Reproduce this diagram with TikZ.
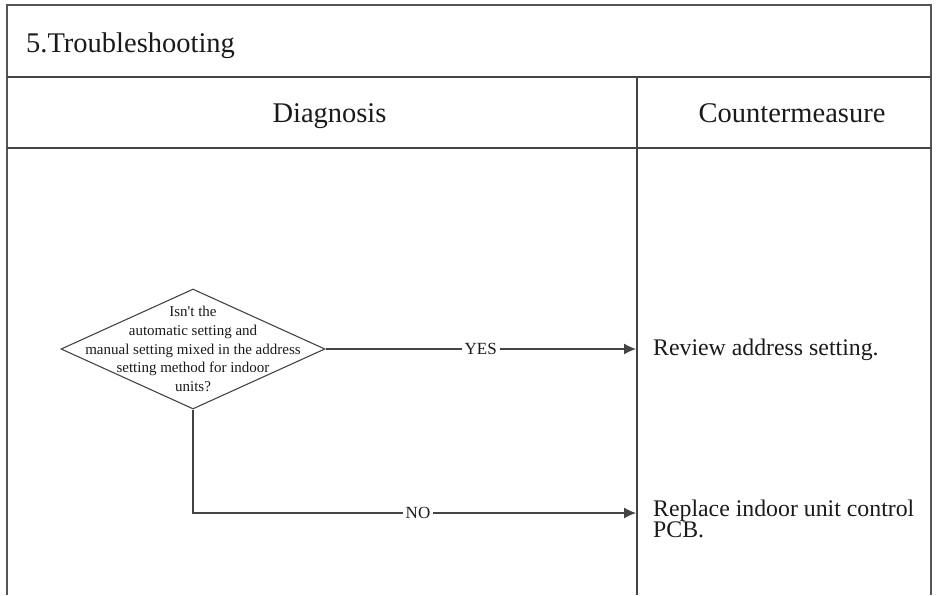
\documentclass[tikz,border=0pt]{standalone}
\usepackage{fontspec}
\setmainfont{Liberation Serif}
\usetikzlibrary{shapes.geometric,arrows.meta}
\definecolor{framecol}{HTML}{555555}
\definecolor{linecol}{HTML}{444444}
\definecolor{txtcol}{HTML}{1A1A1A}
\tikzset{
  frameline/.style={draw=framecol, line width=1.4pt},
  cellline/.style={draw=linecol, line width=1.1pt},
  heading/.style={text=txtcol, font=\fontsize{28.5}{32}\selectfont, inner sep=0pt},
  decision/.style={shape=diamond, draw=linecol, line width=1.1pt, inner sep=0pt, minimum width=264pt, minimum height=120pt},
  qtext/.style={text=txtcol, align=center, font=\fontsize{15}{18.7}\selectfont, inner sep=0pt},
  answer/.style={text=txtcol, align=left, font=\fontsize{23.8}{18}\selectfont, inner sep=0pt},
  conn/.style={draw=linecol, line width=1.2pt, -{Latex[length=12pt,width=11pt]}},
  branch/.style={text=txtcol, fill=white, font=\fontsize{17}{20}\selectfont, inner sep=3pt}
}
\begin{document}
\begin{tikzpicture}[x=1pt,y=-1pt]
\useasboundingbox (0,0) rectangle (936,595);
% frame
\draw[frameline] (7,595) -- (7,5) -- (931,5) -- (931,595);
\draw[cellline] (7,77) -- (931,77);
\draw[cellline] (7,148) -- (931,148);
\draw[cellline] (637,77) -- (637,595);
% headings
\node[heading, anchor=base west] (title) at (26,52) {5.Troubleshooting};
\node[heading, anchor=base] (diag) at (329.5,122) {Diagnosis};
\node[heading, anchor=base] (cm) at (792,122) {Countermeasure};
% decision
\node[decision] (q) at (193,349) {};
\node[qtext] (qt) at (193,349) {Isn\textquotesingle t the\\automatic setting and\\manual setting mixed in the address\\setting method for indoor\\units?};
% answers
\coordinate (yesend) at (636,349);
\coordinate (noend) at (636,513);
\node[answer, anchor=base west] (a1) at (653,355) {Review address setting.};
\node[answer, anchor=north west] (a2) at (653,500) {Replace indoor unit control\\[-1.5pt]PCB.};
% connectors
\draw[conn] (q.east) -- node[branch] (yes) {YES} (yesend);
\draw[conn] (q.south) |- (noend);
\node[branch] (no) at (418,513) {NO};
\end{tikzpicture}
\end{document}
